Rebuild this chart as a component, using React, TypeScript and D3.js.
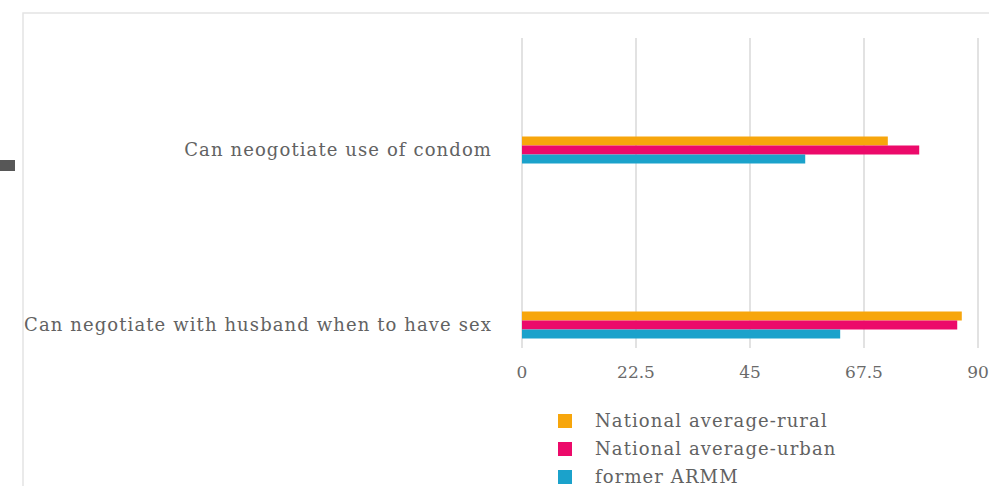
import React from "react";
import * as d3 from "d3";

const categories = [
  "Can neogotiate use of condom",
  "Can negotiate with husband when to have sex",
];
const seriesNames = ["National average-rural", "National average-urban", "former ARMM"];
const rural = [72.2, 86.8];
const urban = [78.4, 85.9];
const armm = [55.9, 62.8];
const xTicks = [0, 22.5, 45, 67.5, 90];
const colors = ["#F7A60C", "#EC0A6A", "#1BA2CB"];

const W = 989;
const H = 486;
const FONT = "'DejaVu Serif', serif";

export default function App() {
  const x = d3.scaleLinear().domain([0, 90]).range([522, 978]);
  const y = d3.scalePoint<string>().domain(categories).range([150, 325]);
  const inner = d3.scaleBand<string>().domain(seriesNames).range([-13.5, 13.5]);
  const values = [rural, urban, armm];
  const plotTop = 38;
  const plotBottom = 348;
  const legendY = d3.scalePoint<string>().domain(seriesNames).range([421, 477]);

  return (
    <svg width={W} height={H} style={{ position: "absolute", left: 0, top: 0, background: "#fff" }}>
      <rect x={23} y={13} width={1000} height={520} fill="#fff" stroke="#e4e4e4" strokeWidth={1.5} />
      <rect x={0} y={160} width={15} height={11} fill="#575757" />
      {xTicks.map((t) => (
        <line key={"g" + t} x1={x(t)} x2={x(t)} y1={plotTop} y2={plotBottom} stroke="#d9d9d9" strokeWidth={1.5} />
      ))}
      {categories.map((c, i) =>
        seriesNames.map((s, j) => (
          <rect
            key={c + s}
            x={x(0)}
            y={(y(c) as number) + (inner(s) as number)}
            width={x(values[j][i]) - x(0)}
            height={inner.bandwidth()}
            fill={colors[j]}
          />
        ))
      )}
      {categories.map((c) => (
        <text key={"l" + c} x={492} y={y(c) as number} dy="0.35em" textAnchor="end" fontFamily={FONT} fontSize={18} letterSpacing={1.1} fill="#626262">
          {c}
        </text>
      ))}
      {xTicks.map((t) => (
        <text key={"t" + t} x={x(t)} y={372} dy="0.35em" textAnchor="middle" fontFamily={FONT} fontSize={17} fill="#6a6a6a">
          {String(t)}
        </text>
      ))}
      {seriesNames.map((s, j) => (
        <g key={"lg" + s} transform={`translate(0,${legendY(s)})`}>
          <rect x={558} y={-7} width={14} height={14} fill={colors[j]} />
          <text x={595} y={0} dy="0.35em" fontFamily={FONT} fontSize={18} letterSpacing={1.1} fill="#626262">
            {s}
          </text>
        </g>
      ))}
    </svg>
  );
}
